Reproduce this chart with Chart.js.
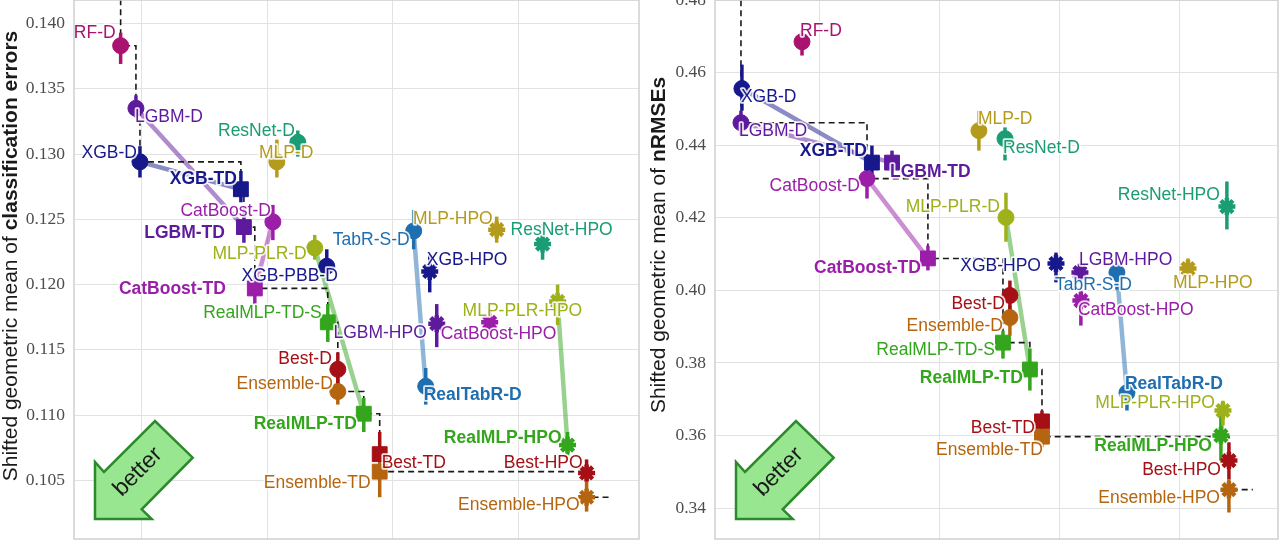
<!DOCTYPE html>
<html>
<head>
<meta charset="utf-8">
<script src="https://cdn.jsdelivr.net/npm/chart.js@4/dist/chart.umd.min.js"></script>
<style>
  html, body { margin: 0; padding: 0; background: #fff; }
  #wrap { position: relative; width: 1280px; height: 544px; overflow: hidden; }
  canvas { position: absolute; top: 0; }
</style>
</head>
<body>
<div id="wrap">
  <canvas id="clsChart" width="640" height="544" style="left:0"></canvas>
  <canvas id="regChart" width="640" height="544" style="left:640px"></canvas>
</div>
<script>
// Methods (shared by both panels)
const methods = ['RF-D', 'XGB-D', 'LGBM-D', 'CatBoost-D', 'MLP-D', 'ResNet-D', 'MLP-PLR-D', 'TabR-S-D', 'XGB-PBB-D',
  'XGB-TD', 'LGBM-TD', 'CatBoost-TD', 'RealMLP-TD-S', 'RealMLP-TD', 'RealTabR-D', 'Best-D', 'Ensemble-D',
  'Best-TD', 'Ensemble-TD', 'XGB-HPO', 'LGBM-HPO', 'CatBoost-HPO', 'MLP-HPO', 'ResNet-HPO', 'MLP-PLR-HPO',
  'RealMLP-HPO', 'Best-HPO', 'Ensemble-HPO'];

// Classification panel (x = time position, y = shifted geometric mean of errors)
const clsTime = [0.830, 0.984, 0.952, 2.044, 2.076, 2.243, 2.378, 3.167, 2.474,
  1.789, 1.813, 1.900, 2.482, 2.769, 3.263, 2.562, 2.562,
  2.896, 2.896, 3.295, 3.351, 3.773, 3.829, 4.195, 4.315,
  4.394, 4.546, 4.546];
const clsError = [0.1383, 0.1294, 0.1335, 0.1248, 0.1294, 0.1309, 0.1228, 0.1241, 0.1214,
  0.1273, 0.1244, 0.1197, 0.1171, 0.1101, 0.1122, 0.1135, 0.1118,
  0.1070, 0.10566, 0.1210, 0.1170, 0.1171, 0.1242, 0.1231, 0.1187,
  0.1077, 0.10556, 0.1037];
const clsErrorHi = [0.1393, 0.1306, 0.1345, 0.1261, 0.1311, 0.1318, 0.1238, 0.1257, 0.1227,
  0.1287, 0.1257, 0.1207, 0.1185, 0.1113, 0.1136, 0.1148, 0.1129,
  0.1087, 0.1066, 0.1223, 0.1185, 0.1181, 0.1252, 0.1246, 0.1200,
  0.1087, 0.1066, 0.1053];
const clsErrorLo = [0.1369, 0.1282, 0.1328, 0.1234, 0.1282, 0.1298, 0.1219, 0.1227, 0.1204,
  0.1263, 0.1232, 0.1185, 0.1156, 0.1087, 0.1108, 0.1123, 0.1108,
  0.1064, 0.1037, 0.1194, 0.1152, 0.1162, 0.1232, 0.1219, 0.1169,
  0.1069, 0.1050, 0.1026];
const clsYTicks = [0.105, 0.110, 0.115, 0.120, 0.125, 0.130, 0.135, 0.140];
const clsFrontEnd = 4.745;

// Regression panel (no XGB-PBB-D)
const regTime = [0.850, 0.348, 0.340, 1.393, 2.328, 2.546, 2.554, 3.481, null,
  1.434, 1.602, 1.902, 2.529, 2.754, 3.565, 2.587, 2.587,
  2.855, 2.855, 2.972, 3.172, 3.180, 4.075, 4.400, 4.367,
  4.350, 4.417, 4.417];
const regNrmse = [0.4685, 0.4556, 0.4462, 0.4308, 0.4440, 0.4418, 0.4201, 0.4049, null,
  0.4352, 0.4352, 0.4088, 0.3856, 0.3782, 0.3718, 0.3986, 0.3925,
  0.3639, 0.3597, 0.4074, 0.4049, 0.3972, 0.4060, 0.4231, 0.3669,
  0.3600, 0.3531, 0.3451];
const regNrmseHi = [0.4716, 0.4622, 0.4495, 0.4336, 0.4495, 0.4449, 0.4269, 0.4077, null,
  0.4399, 0.4385, 0.4123, 0.3889, 0.3840, 0.3757, 0.4027, 0.3958,
  0.3669, 0.3628, 0.4104, 0.4074, 0.3999, 0.4088, 0.4300, 0.3696,
  0.3655, 0.3581, 0.3479];
const regNrmseLo = [0.4647, 0.4495, 0.4426, 0.4253, 0.4385, 0.4358, 0.4134, 0.4002, null,
  0.4308, 0.4325, 0.4055, 0.3812, 0.3724, 0.3669, 0.3944, 0.3875,
  0.3586, 0.3567, 0.4022, 0.4033, 0.3903, 0.4038, 0.4168, 0.3628,
  0.3531, 0.3479, 0.3388];
const regYTicks = [0.34, 0.36, 0.38, 0.40, 0.42, 0.44, 0.46, 0.48];
const regFrontEnd = 4.617;

const xGrid = [1, 2, 3, 4];

// default -> tuned connections
const links = [['LGBM-D', 'LGBM-TD'], ['XGB-D', 'XGB-TD'], ['CatBoost-D', 'CatBoost-TD'],
  ['MLP-PLR-D', 'RealMLP-TD'], ['TabR-S-D', 'RealTabR-D'], ['MLP-PLR-HPO', 'RealMLP-HPO']];

const boldNames = ['XGB-TD', 'LGBM-TD', 'CatBoost-TD', 'RealMLP-TD', 'RealTabR-D', 'RealMLP-HPO'];

const familyColors = [
  ['RF', '#a9126f'], ['XGB', '#17188c'], ['LGBM', '#5e1a9c'], ['CatBoost', '#9a1ea8'],
  ['MLP-PLR', '#9fb11a'], ['MLP', '#b59b1c'], ['ResNet', '#1a9c74'], ['TabR', '#1f6eb0'],
  ['RealTabR', '#1f6eb0'], ['RealMLP', '#33a61d'], ['Best', '#a50f15'], ['Ensemble', '#b5650f']
];

// label placement [dx, dy, align] in pixels relative to the marker
const clsLabelPos = {
  'RF-D': [-5, -13, 'right'], 'LGBM-D': [-1, 9, 'left'], 'XGB-D': [-3, -9, 'right'],
  'XGB-TD': [-4, -10, 'right'], 'LGBM-TD': [-19, 6, 'right'], 'CatBoost-D': [-2, -11, 'right'],
  'CatBoost-TD': [-29, 1, 'right'], 'MLP-D': [-18, -9, 'left'], 'ResNet-D': [-3, -11, 'right'],
  'MLP-PLR-D': [-8, 6, 'right'], 'XGB-PBB-D': [11, 10, 'right'], 'TabR-S-D': [-4, 9, 'right'],
  'MLP-HPO': [-4, -11, 'right'], 'ResNet-HPO': [-32, -14, 'left'], 'XGB-HPO': [-3, -11, 'left'],
  'LGBM-HPO': [-10, 10, 'right'], 'CatBoost-HPO': [-49, 12, 'left'], 'MLP-PLR-HPO': [-95, 10, 'left'],
  'RealTabR-D': [-2, 9, 'left'], 'RealMLP-TD-S': [-6, -9, 'right'], 'Best-D': [-6, -10, 'right'],
  'Ensemble-D': [-5, -7, 'right'], 'RealMLP-TD': [-7, 10, 'right'], 'Best-TD': [2, 9, 'left'],
  'Ensemble-TD': [-9, 12, 'right'], 'RealMLP-HPO': [-6, -7, 'right'], 'Best-HPO': [-4, -10, 'right'],
  'Ensemble-HPO': [-7, 8, 'right']
};
const regLabelPos = {
  'RF-D': [-2, -11, 'left'], 'XGB-D': [-1, 9, 'left'], 'LGBM-D': [-2, 8, 'left'],
  'XGB-TD': [-5, -11, 'right'], 'LGBM-TD': [-2, 10, 'left'], 'CatBoost-D': [-7, 8, 'right'],
  'CatBoost-TD': [-7, 10, 'right'], 'MLP-D': [-1, -11, 'left'], 'ResNet-D': [-2, 10, 'left'],
  'MLP-PLR-D': [-6, -10, 'right'], 'ResNet-HPO': [-7, -11, 'right'], 'XGB-HPO': [-15, 3, 'right'],
  'LGBM-HPO': [-1, -12, 'left'], 'TabR-S-D': [15, 13, 'right'], 'MLP-HPO': [-15, 15, 'left'],
  'CatBoost-HPO': [-3, 10, 'left'], 'Best-D': [-5, 9, 'right'], 'Ensemble-D': [-7, 9, 'right'],
  'RealMLP-TD-S': [-8, 8, 'right'], 'RealMLP-TD': [-7, 9, 'right'], 'RealTabR-D': [-2, -9, 'left'],
  'MLP-PLR-HPO': [-8, -7, 'right'], 'RealMLP-HPO': [-9, 11, 'right'], 'Best-TD': [-7, 7, 'right'],
  'Ensemble-TD': [1, 14, 'right'], 'Best-HPO': [-8, 10, 'right'], 'Ensemble-HPO': [-9, 9, 'right']
};

const SANS = '"Liberation Sans", Arial, Helvetica, sans-serif';

function colorOf(name) {
  const hit = familyColors.find(([p]) => name.startsWith(p + '-'));
  return hit ? hit[1] : '#333';
}
function shapeOf(name) {
  if (name.endsWith('-HPO')) return 'star';
  if (name.includes('-TD')) return 'rect';
  return 'circle';
}
function fade(hex, a) {
  const n = parseInt(hex.slice(1), 16);
  return `rgba(${n >> 16}, ${(n >> 8) & 255}, ${n & 255}, ${a})`;
}

function buildPanel(canvasId, p) {
  const idx = methods.map((m, i) => i).filter(i => p.value[i] != null);
  const datasets = [];

  links.forEach(([a, b]) => {
    const ia = methods.indexOf(a), ib = methods.indexOf(b);
    datasets.push({
      type: 'line', order: 4,
      data: [{ x: p.time[ia], y: p.value[ia] }, { x: p.time[ib], y: p.value[ib] }],
      borderColor: fade(colorOf(b), 0.5), borderWidth: 4.5, pointRadius: 0
    });
  });

  // Pareto front (step line)
  const sorted = idx.slice().sort((a, b) => p.time[a] - p.time[b] || p.value[b] - p.value[a]);
  const front = [];
  let best = Infinity;
  sorted.forEach(i => {
    if (p.value[i] < best) { best = p.value[i]; front.push({ x: p.time[i], y: p.value[i] }); }
  });
  front.unshift({ x: front[0].x, y: p.yRange[1] + 1 });
  front.push({ x: p.frontEnd, y: best });
  datasets.push({
    type: 'line', order: 3, data: front, stepped: true,
    borderColor: '#1a1a1a', borderWidth: 1.6, borderDash: [6, 4], pointRadius: 0
  });

  // error bars
  idx.forEach(i => {
    datasets.push({
      type: 'line', order: 2,
      data: [{ x: p.time[i], y: p.lo[i] }, { x: p.time[i], y: p.hi[i] }],
      borderColor: colorOf(methods[i]), borderWidth: 3.5, pointRadius: 0, borderCapStyle: 'butt'
    });
  });

  // markers
  datasets.push({
    type: 'scatter', order: 1,
    data: idx.map(i => ({ x: p.time[i], y: p.value[i] })),
    pointStyle: idx.map(i => shapeOf(methods[i])),
    pointRadius: idx.map(i => ({ circle: 8, rect: 10.5, star: 8.5 })[shapeOf(methods[i])]),
    pointBackgroundColor: idx.map(i => colorOf(methods[i])),
    pointBorderColor: idx.map(i => colorOf(methods[i])),
    pointBorderWidth: idx.map(i => shapeOf(methods[i]) === 'star' ? 4.5 : 1)
  });

  const deco = {
    id: 'deco' + canvasId,
    beforeDatasetsDraw(chart) {
      const { ctx, chartArea: { left, bottom } } = chart;
      // "better" arrow
      const pts = [[21, -20], [21, -77], [30, -67], [81, -118], [118.7, -81.3], [67.7, -29.7], [77.7, -20]];
      ctx.save();
      ctx.beginPath();
      pts.forEach(([dx, dy], k) => k ? ctx.lineTo(left + dx, bottom + dy) : ctx.moveTo(left + dx, bottom + dy));
      ctx.closePath();
      ctx.fillStyle = '#98e690';
      ctx.fill();
      ctx.lineWidth = 2.5;
      ctx.lineJoin = 'miter';
      ctx.strokeStyle = '#2b8a2b';
      ctx.stroke();
      ctx.translate(left + 64, bottom - 67);
      ctx.rotate(-Math.PI / 4);
      ctx.fillStyle = '#1a1a1a';
      ctx.font = '23px ' + SANS;
      ctx.textAlign = 'center';
      ctx.textBaseline = 'middle';
      ctx.fillText('better', 0, 0);
      ctx.restore();
    },
    afterDatasetsDraw(chart) {
      const { ctx, scales: { x, y } } = chart;
      ctx.save();
      ctx.textBaseline = 'middle';
      ctx.lineJoin = 'round';
      idx.forEach(i => {
        const name = methods[i];
        const [dx, dy, align] = p.labelPos[name];
        const px = x.getPixelForValue(p.time[i]) + dx;
        const py = y.getPixelForValue(p.value[i]) + dy;
        ctx.font = (boldNames.includes(name) ? 'bold ' : '') + '17.5px ' + SANS;
        ctx.textAlign = align;
        ctx.lineWidth = 3.5;
        ctx.strokeStyle = 'rgba(255,255,255,0.85)';
        ctx.strokeText(name, px, py);
        ctx.fillStyle = colorOf(name);
        ctx.fillText(name, px, py);
      });
      ctx.restore();
    },
    afterDraw(chart) {
      const { ctx, chartArea: { left, top, right, bottom } } = chart;
      ctx.save();
      ctx.strokeStyle = '#cfcfcf';
      ctx.lineWidth = 1.5;
      ctx.strokeRect(left, top, right - left, bottom - top);
      // y-axis title with bold metric name
      ctx.translate(p.titleX, p.titleY);
      ctx.rotate(-Math.PI / 2);
      ctx.textBaseline = 'middle';
      ctx.textAlign = 'left';
      ctx.fillStyle = '#1a1a1a';
      const normal = '21px ' + SANS, bold = 'bold 21px ' + SANS;
      ctx.font = normal;
      const w1 = ctx.measureText(p.title[0]).width;
      ctx.font = bold;
      const w2 = ctx.measureText(p.title[1]).width;
      const x0 = -(w1 + w2) / 2;
      ctx.font = normal;
      ctx.fillText(p.title[0], x0, 0);
      ctx.font = bold;
      ctx.fillText(p.title[1], x0 + w1, 0);
      ctx.restore();
    }
  };

  return new Chart(document.getElementById(canvasId), {
    type: 'scatter',
    data: { datasets },
    options: {
      responsive: false,
      animation: false,
      events: [],
      layout: { autoPadding: false, padding: { left: 0, top: 0, right: p.padRight, bottom: 0 } },
      plugins: { legend: { display: false }, tooltip: { enabled: false } },
      scales: {
        x: {
          type: 'linear', min: p.xRange[0], max: p.xRange[1],
          afterBuildTicks: s => { s.ticks = xGrid.map(v => ({ value: v })); },
          afterFit: s => { s.height = 5; s.paddingLeft = 0; s.paddingRight = 0; },
          ticks: { display: false },
          grid: { color: '#e2e2e2', lineWidth: 1, drawTicks: false },
          border: { display: false }
        },
        y: {
          type: 'linear', min: p.yRange[0], max: p.yRange[1],
          afterBuildTicks: s => { s.ticks = p.yTicks.map(v => ({ value: v })); },
          afterFit: s => { s.width = p.axisWidth; s.paddingTop = 0; s.paddingBottom = 0; },
          ticks: {
            padding: 9, color: '#4d4d4d',
            font: { family: '"Liberation Serif", "Times New Roman", serif', size: 17.5 },
            callback: v => v.toFixed(p.digits)
          },
          grid: { color: '#e2e2e2', lineWidth: 1, drawTicks: false },
          border: { display: false }
        }
      }
    },
    plugins: [deco]
  });
}

buildPanel('clsChart', {
  time: clsTime, value: clsError, hi: clsErrorHi, lo: clsErrorLo,
  xRange: [0.458, 4.964], yRange: [0.1005, 0.1418], yTicks: clsYTicks, digits: 3,
  frontEnd: clsFrontEnd, labelPos: clsLabelPos, axisWidth: 74, padRight: 1,
  title: ['Shifted geometric mean of ', 'classification errors'], titleX: 11, titleY: 256
});

buildPanel('regChart', {
  time: regTime, value: regNrmse, hi: regNrmseHi, lo: regNrmseLo,
  xRange: [0.123, 4.827], yRange: [0.3315, 0.48], yTicks: regYTicks, digits: 2,
  frontEnd: regFrontEnd, labelPos: regLabelPos, axisWidth: 75, padRight: 2,
  title: ['Shifted geometric mean of ', 'nRMSEs'], titleX: 19.5, titleY: 245
});
</script>
</body>
</html>
